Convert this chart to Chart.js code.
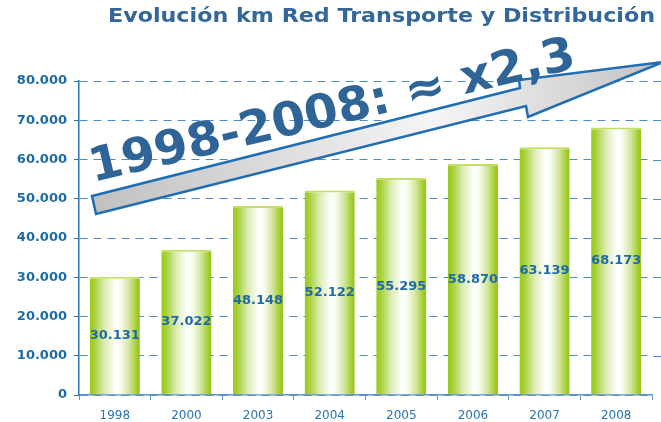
<!DOCTYPE html>
<html>
<head>
<meta charset="utf-8">
<script src="https://cdn.jsdelivr.net/npm/chart.js@4.4.0/dist/chart.umd.min.js"></script>
<style>
html,body{margin:0;padding:0;background:#fff}
canvas{display:block}
</style>
</head>
<body>
<canvas id="c" width="661" height="422"></canvas>
<script>
// data
const years=['1998','2000','2003','2004','2005','2006','2007','2008'];
const km=[30131,37022,48148,52122,55295,58870,63139,68173];
const yMax=80000, yStep=10000;
const title='Evolución km Red Transporte y Distribución';
const banner='1998-2008: ≈ x2,3';

const blue='#2e72b0';
function fmt(n){
  return String(n).replace(/\B(?=(\d{3})+(?!\d))/g,'.');
}

// cylinder-ish gradient for each bar
function barFill(c){
  const chart=c.chart, xs=chart.scales.x;
  if(!chart.chartArea||!xs||c.type!=='data') return '#a8cc3a';
  const cx=xs.getPixelForValue(c.dataIndex);
  const w=xs.width/years.length*0.7;
  const g=chart.ctx.createLinearGradient(cx-w/2,0,cx+w/2,0);
  g.addColorStop(0,'#98c81a');
  g.addColorStop(0.1,'#a9d13a');
  g.addColorStop(0.3,'#dcecb4');
  g.addColorStop(0.52,'#ffffff');
  g.addColorStop(0.62,'#f8fbf0');
  g.addColorStop(0.8,'#cfe496');
  g.addColorStop(0.94,'#a2cc2c');
  g.addColorStop(1,'#94c216');
  return g;
}

const deco={
  id:'deco',
  beforeDatasetsDraw(chart){
    // gridlines keep going past the plot to the edge
    const {ctx,chartArea:a}=chart, ys=chart.scales.y;
    ctx.save();
    ctx.strokeStyle='#4a8cc8';
    ctx.lineWidth=1;
    ctx.setLineDash([8,6]);
    ctx.lineDashOffset=(a.right-a.left)%14;
    for(let v=yStep;v<=yMax;v+=yStep){
      const y=Math.round(ys.getPixelForValue(v))+0.5;
      ctx.beginPath();ctx.moveTo(a.right,y);ctx.lineTo(chart.width,y);ctx.stroke();
    }
    ctx.restore();
  },
  afterDatasetsDraw(chart){
    const ctx=chart.ctx;
    ctx.save();
    ctx.font='bold 13px "DejaVu Sans"';
    ctx.fillStyle='#1f6aa5';
    ctx.textAlign='center';
    ctx.textBaseline='middle';
    chart.getDatasetMeta(0).data.forEach((bar,i)=>{
      ctx.fillText(fmt(km[i]),bar.x,(bar.y+bar.base)/2);
    });
    ctx.restore();
  },
  afterDraw(chart){
    const ctx=chart.ctx;
    // big arrow
    ctx.save();
    const pts=[[92,196],[520,88],[519,80],[663,62],[528,117],[526,106],[96,214]];
    ctx.beginPath();
    pts.forEach((p,i)=>i?ctx.lineTo(p[0],p[1]):ctx.moveTo(p[0],p[1]));
    ctx.closePath();
    const g=ctx.createLinearGradient(92,0,661,0);
    g.addColorStop(0,'#c0c0c0');
    g.addColorStop(0.6,'#f5f5f5');
    g.addColorStop(0.85,'#d6d6d6');
    g.addColorStop(1,'#c2c2c2');
    ctx.fillStyle=g;
    ctx.fill();
    ctx.lineJoin='miter';
    ctx.lineWidth=2.5;
    ctx.strokeStyle='#1f6db3';
    ctx.stroke();
    ctx.restore();

    // banner text
    ctx.save();
    ctx.translate(93,182);
    ctx.rotate(-13.3*Math.PI/180);
    ctx.font='bold 47px "DejaVu Sans"';
    const bw=ctx.measureText(banner).width;
    ctx.scale(498/bw,1);
    ctx.fillStyle='#2f6497';
    ctx.textBaseline='alphabetic';
    ctx.fillText(banner,0,0);
    ctx.restore();

    // title
    ctx.save();
    ctx.font='bold 19px "DejaVu Sans"';
    const tw=ctx.measureText(title).width;
    ctx.translate(655,17);
    ctx.scale(547/tw,1);
    ctx.fillStyle='#336699';
    ctx.textAlign='right';
    ctx.textBaseline='middle';
    ctx.fillText(title,0,0);
    ctx.restore();
  }
};

new Chart(document.getElementById('c'),{
  type:'bar',
  data:{labels:years,datasets:[{
    data:km,
    backgroundColor:barFill,
    borderColor:'#c3de63',
    borderWidth:{top:2,left:0,right:0,bottom:0},
    borderSkipped:'start',
    categoryPercentage:1,
    barPercentage:0.7
  }]},
  options:{
    responsive:false,
    animation:false,
    layout:{padding:{top:81,right:9,left:0,bottom:0}},
    plugins:{legend:{display:false},tooltip:{enabled:false},title:{display:false}},
    scales:{
      x:{
        grid:{display:true,drawOnChartArea:false,tickLength:5,color:'#5b96cc'},
        border:{color:'#5b96cc',width:1.5},
        ticks:{color:'#2b73b0',font:{family:'DejaVu Sans',size:12},padding:9},
        afterFit:s=>{s.height=27;}
      },
      y:{
        min:0,max:yMax,
        ticks:{stepSize:yStep,color:'#1c6aa6',font:{family:'DejaVu Sans',size:13,weight:'bold'},padding:7,callback:v=>fmt(v)},
        grid:{color:'#4a8cc8',tickLength:5,tickColor:blue},
        border:{color:blue,width:1.5,dash:[8,6]},
        afterFit:s=>{s.width=79;}
      }
    }
  },
  plugins:[deco]
});
</script>
</body>
</html>
